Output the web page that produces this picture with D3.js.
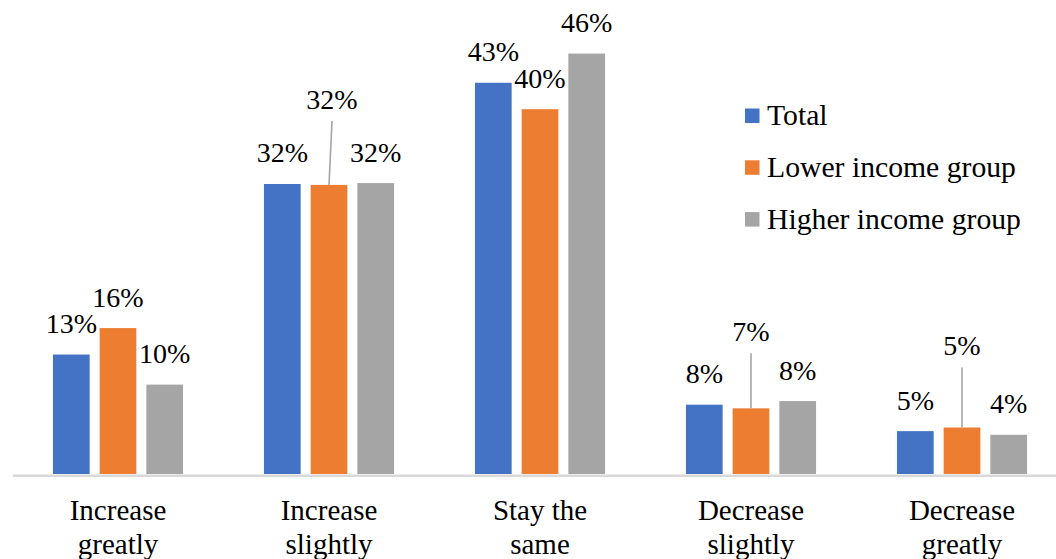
<!DOCTYPE html>
<html>
<head>
<meta charset="utf-8">
<script src="https://cdn.jsdelivr.net/npm/d3@7"></script>
<style>
  html, body { margin: 0; padding: 0; background: #fff; }
  svg { display: block; }
  svg text { font-family: "Liberation Serif", "Times New Roman", serif !important; fill: #000; }
</style>
</head>
<body>
<svg id="chart" width="1056" height="559"></svg>
<script>
// ---- data ----
const categories = ["Increase greatly", "Increase slightly", "Stay the same", "Decrease slightly", "Decrease greatly"];
const categoryLines = [["Increase", "greatly"], ["Increase", "slightly"], ["Stay the", "same"], ["Decrease", "slightly"], ["Decrease", "greatly"]];
const seriesNames = ["Total", "Lower income group", "Higher income group"];
const totalValues = [13.1, 31.8, 42.9, 7.6, 4.7];
const lowerValues = [16.0, 31.7, 40.0, 7.2, 5.1];
const higherValues = [9.8, 31.9, 46.1, 8.0, 4.3];

// ---- styling / layout ----
const colors = ["#4472C4", "#ED7D31", "#A5A5A5"];
const seriesValues = [totalValues, lowerValues, higherValues];
// moved labels (with leader lines) for the Lower income series: category index -> [lift px, dx px]
const movedLabels = { 1: [76, 3], 3: [67, 0], 4: [72, 0] };
const FONT = '"Liberation Serif", "Times New Roman", serif';

const svg = d3.select("#chart");
const baseline = 474;

const x = d3.scaleBand().domain(categories).range([12.5, 1067.5]).paddingInner(0).paddingOuter(0);
const xSub = d3.scaleBand().domain(seriesNames).range([-70.05, 70.05]).paddingInner(0.214).paddingOuter(0.107);
const y = d3.scaleLinear().domain([0, 50]).range([baseline, 18]);

// bars
const groups = svg.selectAll("g.cat").data(categories).enter().append("g")
  .attr("class", "cat")
  .attr("transform", d => `translate(${x(d) + x.bandwidth() / 2},0)`);

seriesNames.forEach((s, si) => {
  groups.append("rect")
    .attr("x", xSub(s))
    .attr("width", xSub.bandwidth())
    .attr("y", (d, i) => y(seriesValues[si][i]))
    .attr("height", (d, i) => baseline - y(seriesValues[si][i]))
    .attr("fill", colors[si]);
});

// axis
const axis = d3.axisBottom(x).tickSize(0).tickSizeOuter(0);
const ax = svg.append("g").attr("transform", "translate(0,475.2)").call(axis)
  .attr("font-family", FONT);
ax.select(".domain").attr("stroke", "#d9d9d9").attr("stroke-width", 2.6);
ax.selectAll(".tick text").each(function(d, i) {
  const t = d3.select(this);
  t.text(null).attr("dy", null).attr("y", null)
    .style("font-family", FONT)
    .style("font-size", "29px").attr("fill", "#000");
  categoryLines[i].forEach((line, li) => {
    t.append("tspan").attr("x", 0).attr("y", 45 + li * 33.5).text(line);
  });
});

// data labels
seriesNames.forEach((s, si) => {
  groups.each(function(d, i) {
    const g = d3.select(this);
    const v = seriesValues[si][i];
    const cx = xSub(s) + xSub.bandwidth() / 2;
    const top = y(v);
    let lx = cx, ly = top - 21.5;
    const moved = si === 1 ? movedLabels[i] : null;
    if (moved) {
      lx = cx + moved[1];
      ly = top - moved[0];
      g.append("line")
        .attr("x1", lx).attr("y1", ly + 12)
        .attr("x2", cx).attr("y2", top)
        .attr("stroke", "#a6a6a6").attr("stroke-width", 1.6);
    }
    g.append("text")
      .attr("x", lx).attr("y", ly)
      .attr("text-anchor", "middle")
      .style("font-family", FONT)
      .style("font-size", "28px")
      .text(Math.round(v) + "%");
  });
});

// legend
const legend = svg.append("g").attr("transform", "translate(745,108.5)");
seriesNames.forEach((s, si) => {
  const lg = legend.append("g").attr("transform", `translate(0,${si * 51.8})`);
  lg.append("rect").attr("width", 14.5).attr("height", 14.5).attr("fill", colors[si]);
  lg.append("text").attr("x", 22).attr("y", 16.5)
    .style("font-family", FONT).style("font-size", "29.7px").text(s);
});
</script>
</body>
</html>
